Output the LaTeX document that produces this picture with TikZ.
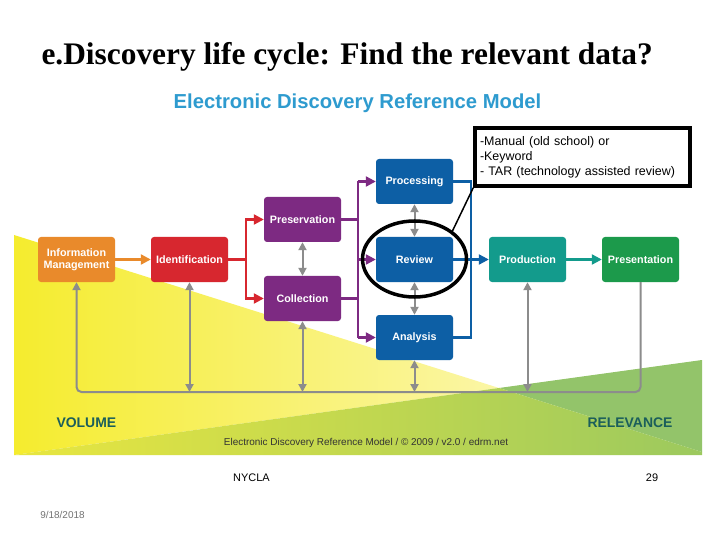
\documentclass[tikz,border=0pt]{standalone}
\usepackage{fontspec}
\setmainfont{Liberation Sans}
\newfontfamily\titlefont{Liberation Serif}
\usetikzlibrary{arrows.meta,shapes.geometric}
\definecolor{imorange}{HTML}{E98A2B}
\definecolor{idred}{HTML}{D7272F}
\definecolor{ppurple}{HTML}{7D2A82}
\definecolor{rblue}{HTML}{0D5FA5}
\definecolor{pteal}{HTML}{139B8C}
\definecolor{pgreen}{HTML}{1C9A4B}
\definecolor{loopgray}{HTML}{8C8C8C}
\definecolor{edrmsky}{HTML}{2E9BCF}
\definecolor{edrmink}{HTML}{1B5E5B}
\definecolor{volyellow}{HTML}{F5EC2E}
\definecolor{volpale}{HTML}{FBF6A6}
\definecolor{relgreen}{HTML}{93C46A}
\definecolor{mixleft}{HTML}{E8E640}
\definecolor{mixright}{HTML}{9CC95E}
\begin{document}
\begin{tikzpicture}[
        x=1bp, y=-1bp,
        stage/.style={rounded corners=3bp, minimum width=77bp, minimum height=45bp,
            inner sep=1bp, align=center, text=white,
            font=\fontsize{10.8}{12.5}\selectfont\bfseries},
        flow/.style={line width=2.2bp, -{Triangle[length=10bp,width=10bp]}},
        bus/.style={line width=2.2bp},
        twoway/.style={draw=loopgray, line width=2bp,
            {Triangle[length=8bp,width=8bp]}-{Triangle[length=8bp,width=8bp]}},
        notebox/.style={draw, line width=3.5bp, fill=white, text width=205bp,
            inner sep=5bp, minimum height=58bp, align=left,
            font=\fontsize{12.5}{15}\selectfont}
    ]
    \fill[white] (0,0) rectangle (720,540);

    \shade[left color=volyellow, right color=volpale] (14,235) -- (499,388) -- (14,455) -- cycle;
    \fill[relgreen] (499,388) -- (702,360) -- (702,452) -- cycle;
    \shade[left color=mixleft, right color=mixright] (14,455) -- (499,388) -- (702,452) -- (702,455) -- cycle;

    \node[anchor=west, font=\titlefont\fontsize{31.5}{34}\selectfont\bfseries] (title) at (38,57)
        {e.Discovery life cycle: Find the relevant data?};
    \node[font=\fontsize{20.3}{22}\selectfont\bfseries, text=edrmsky] (model) at (357.5,103)
        {Electronic Discovery Reference Model};

    \node[stage, fill=imorange] (info) at (76.5,259.5) {Information\\Management};
    \node[stage, fill=idred] (ident) at (189.5,259.5) {Identification};
    \node[stage, fill=ppurple] (pres) at (302.5,219.5) {Preservation};
    \node[stage, fill=ppurple] (coll) at (302.5,298.5) {Collection};
    \node[stage, fill=rblue] (proc) at (414.5,181.5) {Processing};
    \node[stage, fill=rblue] (rev) at (414.5,259.5) {Review};
    \node[stage, fill=rblue] (anal) at (414.5,337.5) {Analysis};
    \node[stage, fill=pteal] (prod) at (527.5,259.5) {Production};
    \node[stage, fill=pgreen] (presn) at (640.5,259.5) {Presentation};

    \coordinate (idfork) at (246,259.5);
    \coordinate (pfork) at (358,259.5);
    \coordinate (bfork) at (471,259.5);
    \coordinate (fb) at (360,392);

    \draw[flow, imorange] (info) -- (ident);
    \draw[bus, idred] (ident) -- (idfork);
    \draw[flow, idred] (idfork) |- (pres);
    \draw[flow, idred] (idfork) |- (coll);

    \draw[bus, ppurple] (pres.east) -- (pres.east -| pfork);
    \draw[bus, ppurple] (coll.east) -- (coll.east -| pfork);
    \draw[bus, ppurple] (pfork |- proc) -- (pfork |- anal);
    \foreach \n in {proc, rev, anal}
        \draw[flow, ppurple] (pfork |- \n) -- (\n);

    \draw[bus, rblue] (proc) -| (bfork) |- (anal);
    \draw[flow, rblue] (rev) -- (prod);
    \draw[flow, pteal] (prod) -- (presn);

    \draw[twoway] (pres) -- (coll);
    \draw[twoway] (proc) -- (rev);
    \draw[twoway] (rev) -- (anal);

    \draw[loopgray, line width=2bp, rounded corners=5bp, -{Triangle[length=8bp,width=8bp]}]
        (presn) |- (fb) -| (info);
    \foreach \n in {ident, coll, anal, prod}
        \draw[twoway] (\n) -- (\n |- fb);

    \node[draw, ellipse, line width=3.5bp, minimum width=104bp, minimum height=76bp] (ring) at (414.5,259) {};
    \node[notebox] (note) at (582.5,157)
        {-Manual (old school) or\\-Keyword\\- TAR (technology assisted review)};
    \draw[line width=1.5bp] (ring.north east) -- (note.south west);

    \node[anchor=west, text=edrmink, font=\fontsize{14}{16}\selectfont\bfseries] (vol) at (53,423) {VOLUME};
    \node[anchor=east, text=edrmink, font=\fontsize{14}{16}\selectfont\bfseries] (relev) at (676,423) {RELEVANCE};
    \node[text=black!80, font=\fontsize{10}{12}\selectfont] (credit) at (366,443)
        {Electronic Discovery Reference Model / © 2009 / v2.0 / edrm.net};

    \node[font=\fontsize{11}{13}\selectfont] (org) at (251.5,478) {NYCLA};
    \node[font=\fontsize{11}{13}\selectfont] (page) at (652,478) {29};
    \node[text=black!55, font=\fontsize{10}{12}\selectfont] (date) at (62.5,515) {9/18/2018};
\end{tikzpicture}
\end{document}
